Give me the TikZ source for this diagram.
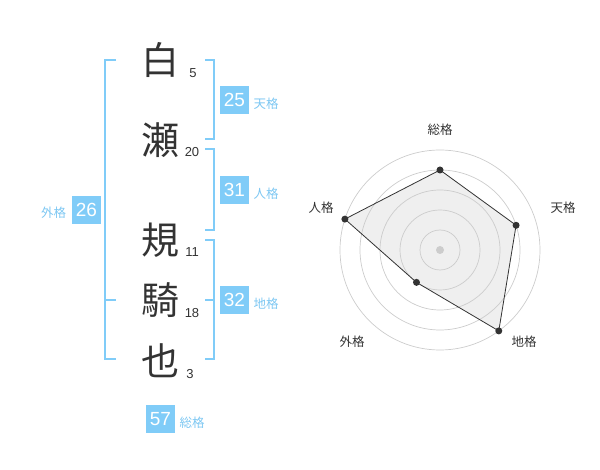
\documentclass[tikz,border=0pt]{standalone}
\usepackage{fontspec}
\setmainfont{Liberation Sans}
\newfontfamily\jpfont{Noto Sans CJK JP}
\usepackage{tikz}
\usetikzlibrary{positioning}
\usepackage{xcolor}
\definecolor{kakublue}{HTML}{80CCF8}
\definecolor{kakutext}{HTML}{7DC7F2}
\definecolor{inkgray}{HTML}{333333}
\definecolor{ringgray}{HTML}{CCCCCC}
\definecolor{areagray}{HTML}{EFEFEF}
\tikzset{
	kanji/.style={font=\jpfont\fontsize{38}{38}\selectfont, text=inkgray, inner sep=0pt},
	strokes/.style={font=\fontsize{13}{13}\selectfont, text=inkgray, inner sep=0pt, anchor=base},
	kakubox/.style={fill=kakublue, text=white, minimum width=29pt, minimum height=28pt, inner sep=0pt, font=\fontsize{19}{19}\selectfont},
	kakuname/.style={font=\jpfont\fontsize{12.5}{12.5}\selectfont, text=kakutext, inner sep=0pt},
	bracket/.style={kakublue, line width=2pt},
	axisname/.style={font=\jpfont\fontsize{12.5}{12.5}\selectfont, text=inkgray, inner sep=0pt},
	ptdot/.style={circle, fill=inkgray, inner sep=0pt, minimum size=7pt}
}
\begin{document}
\begin{tikzpicture} [x=1pt, y=-1pt]
		\useasboundingbox (0, 0) rectangle (600, 470);
		% name, one character per row
		\node [kanji] (c1) at (160, 60) {白};
		\node [kanji] (c2) at (160, 140) {瀬};
		\node [kanji] (c3) at (160, 240) {規};
		\node [kanji] (c4) at (160, 300) {騎};
		\node [kanji] (c5) at (160, 361) {也};
		\node [strokes] (n1) at (193, 78) {5};
		\node [strokes] (n2) at (192, 157) {20};
		\node [strokes] (n3) at (192, 257) {11};
		\node [strokes] (n4) at (192, 318) {18};
		\node [strokes] (n5) at (190, 378) {3};
		% brackets
		\draw [bracket] (116, 60)--(105, 60)--(105, 359)--(116, 359);
		\draw [bracket] (105, 300)--(116, 300);
		\draw [bracket] (205, 60)--(214, 60)--(214, 139)--(205, 139);
		\draw [bracket] (205, 149)--(214, 149)--(214, 230)--(205, 230);
		\draw [bracket] (205, 240)--(214, 240)--(214, 359)--(205, 359);
		\draw [bracket] (205, 300)--(214, 300);
		% scores
		\node [kakubox] (ten) at (234.5, 100) {25};
		\node [kakubox] (jin) at (234.5, 190) {31};
		\node [kakubox] (gai) at (86.5, 210) {26};
		\node [kakubox] (chi) at (234.5, 300) {32};
		\node [kakubox] (sou) at (160.5, 419) {57};
		\node [kakuname] (tenl) at (266, 104) {天格};
		\node [kakuname] (jinl) at (266, 194) {人格};
		\node [kakuname] (gail) at (53.5, 213) {外格};
		\node [kakuname] (chil) at (266, 304) {地格};
		\node [kakuname] (soul) at (192, 423) {総格};
		% radar chart
		\begin{scope} [shift={(440, 250)}, yscale=-1]
			\coordinate (o) at (0, 0);
			\coordinate (psou) at (90:80);
			\coordinate (pten) at (18:80);
			\coordinate (pchi) at (-54:100);
			\coordinate (pgai) at (-126:40);
			\coordinate (pjin) at (162:100);
			\fill [areagray] (psou)--(pten)--(pchi)--(pgai)--(pjin)--cycle;
			\draw [ringgray, line width=0.7pt] (o) circle (20pt);
			\draw [ringgray, line width=0.7pt] (o) circle (40pt);
			\draw [ringgray, line width=0.7pt] (o) circle (60pt);
			\draw [ringgray, line width=0.7pt] (o) circle (80pt);
			\draw [ringgray, line width=0.7pt] (o) circle (100pt);
			\fill [ringgray] (o) circle (4pt);
			\draw [inkgray, line width=0.8pt] (psou)--(pten)--(pchi)--(pgai)--(pjin)--cycle;
			\node [ptdot] (dsou) at (psou) {};
			\node [ptdot] (dten) at (pten) {};
			\node [ptdot] (dchi) at (pchi) {};
			\node [ptdot] (dgai) at (pgai) {};
			\node [ptdot] (djin) at (pjin) {};
			\node [axisname] (asou) at (0, 120) {総格};
			\node [axisname] (aten) at (123, 42) {天格};
			\node [axisname] (achi) at (84, -92) {地格};
			\node [axisname] (agai) at (-88, -92) {外格};
			\node [axisname] (ajin) at (-119, 42) {人格};
		\end{scope}
	\end{tikzpicture}
\end{document}
